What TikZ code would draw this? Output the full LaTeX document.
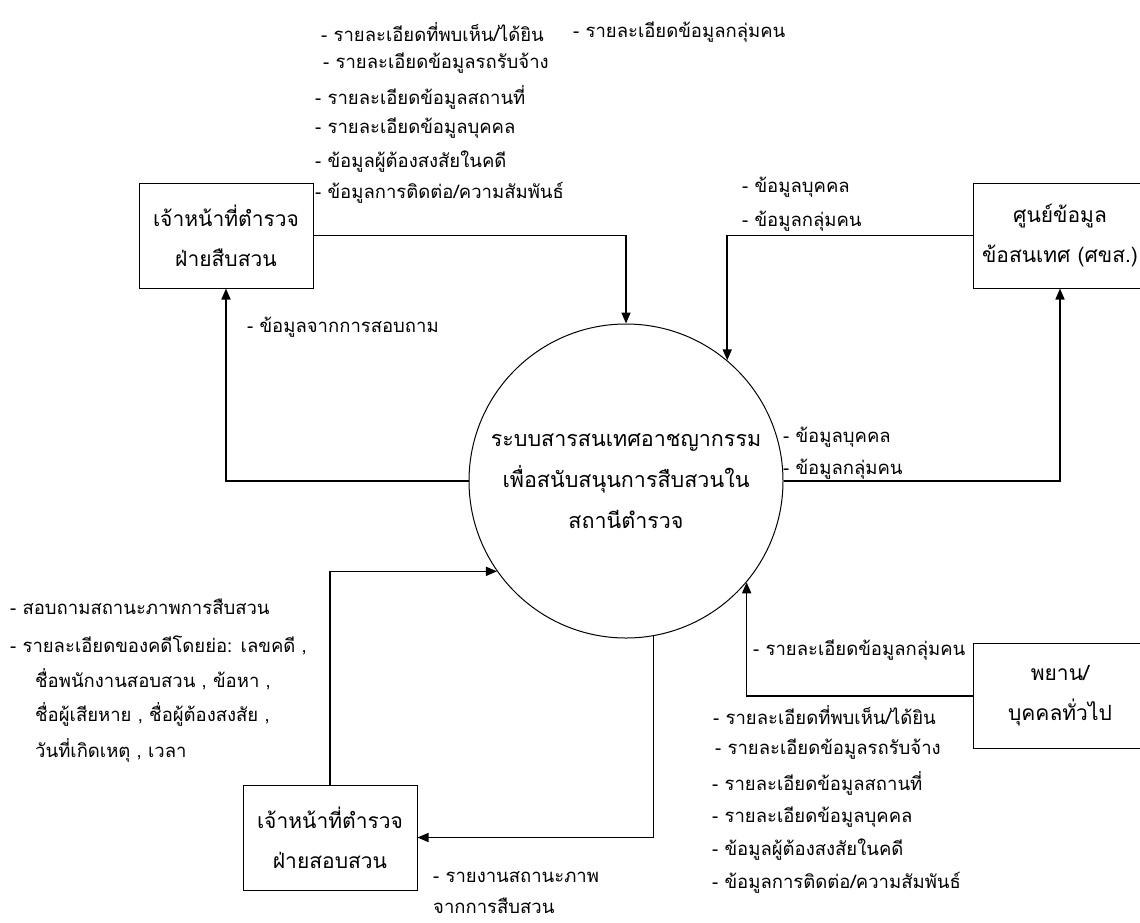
\documentclass[tikz,border=0pt]{standalone}
\usepackage{fontspec}
\newfontfamily\thaifont[Script=Thai]{Loma}
\usetikzlibrary{arrows.meta}
\tikzset{
  box/.style={draw, line width=1pt, minimum width=174pt, minimum height=105pt, align=center, inner sep=2pt, font=\thaifont\fontsize{21}{40}\selectfont},
  proc/.style={draw, circle, line width=1pt, minimum size=314pt, inner sep=0pt, align=center, font=\thaifont\fontsize{21.5}{41}\selectfont},
  flow/.style={line width=1.6pt, -{Triangle[length=11pt,width=9pt]}},
  lab/.style={anchor=west, inner sep=0pt, font=\thaifont\fontsize{18.5}{34}\selectfont},
}
\begin{document}
\begin{tikzpicture}[x=1pt,y=-1pt]
\useasboundingbox (0,0) rectangle (1140,922);
% processes and entities
\node[proc] (sys) at (626,481) {ระบบสารสนเทศอาชญากรรม\\เพื่อสนับสนุนการสืบสวนใน\\สถานีตำรวจ};
\node[box] (inv) at (226,235.5) {เจ้าหน้าที่ตำรวจ\\ฝ่ายสืบสวน};
\node[box] (ctr) at (1060,235.5) {ศูนย์ข้อมูล\\ข้อสนเทศ (ศขส.)};
\node[box] (wit) at (1060,696) {พยาน/\\บุคคลทั่วไป};
\node[box] (qry) at (330,837.5) {เจ้าหน้าที่ตำรวจ\\ฝ่ายสอบสวน};
% connectors
\draw[flow] (inv.east) -| (sys.north);
\draw[flow] (sys.west) -| (inv.south);
\draw[flow] (ctr.west) -| (sys.50.4);
\draw[flow] (sys.east) -| (ctr.south);
\draw[flow] (qry.north) |- (sys.215.9);
\draw[flow] (sys.280.6) |- (qry.east);
\draw[flow] (wit.west) -| (sys.320.4);
% labels: top
\node[lab] (a1) at (321,32) {- รายละเอียดที่พบเห็น/ได้ยิน};
\node[lab] (a2) at (323,63) {- รายละเอียดข้อมูลรถรับจ้าง};
\node[lab] (a3) at (315,97) {- รายละเอียดข้อมูลสถานที่};
\node[lab] (a4) at (315,128) {- รายละเอียดข้อมูลบุคคล};
\node[lab] (a5) at (315,162) {- ข้อมูลผู้ต้องสงสัยในคดี};
\node[lab] (a6) at (315,193) {- ข้อมูลการติดต่อ/ความสัมพันธ์};
\node[lab] (b1) at (573,32) {- รายละเอียดข้อมูลกลุ่มคน};
\node[lab] (c1) at (742,187) {- ข้อมูลบุคคล};
\node[lab] (c2) at (742,221) {- ข้อมูลกลุ่มคน};
\node[lab] (d1) at (247,327) {- ข้อมูลจากการสอบถาม};
\node[lab] (e1) at (783,437) {- ข้อมูลบุคคล};
\node[lab] (e2) at (783,469) {- ข้อมูลกลุ่มคน};
% labels: bottom left
\node[lab] (f1) at (10,607) {- สอบถามสถานะภาพการสืบสวน};
\node[lab] (f2) at (10,645) {- รายละเอียดของคดีโดยย่อ: เลขคดี ,};
\node[lab] (f3) at (35,679) {ชื่อพนักงานสอบสวน , ข้อหา ,};
\node[lab] (f4) at (35,714) {ชื่อผู้เสียหาย , ชื่อผู้ต้องสงสัย ,};
\node[lab] (f5) at (35,750) {วันที่เกิดเหตุ , เวลา};
\node[lab] (g1) at (433,877) {- รายงานสถานะภาพ};
\node[lab] (g2) at (433,906) {จากการสืบสวน};
% labels: bottom right
\node[lab] (h1) at (753,650) {- รายละเอียดข้อมูลกลุ่มคน};
\node[lab] (h2) at (713,715) {- รายละเอียดที่พบเห็น/ได้ยิน};
\node[lab] (h3) at (715,749) {- รายละเอียดข้อมูลรถรับจ้าง};
\node[lab] (h4) at (712,783) {- รายละเอียดข้อมูลสถานที่};
\node[lab] (h5) at (712,817) {- รายละเอียดข้อมูลบุคคล};
\node[lab] (h6) at (712,850) {- ข้อมูลผู้ต้องสงสัยในคดี};
\node[lab] (h7) at (712,883) {- ข้อมูลการติดต่อ/ความสัมพันธ์};
\end{tikzpicture}
\end{document}
